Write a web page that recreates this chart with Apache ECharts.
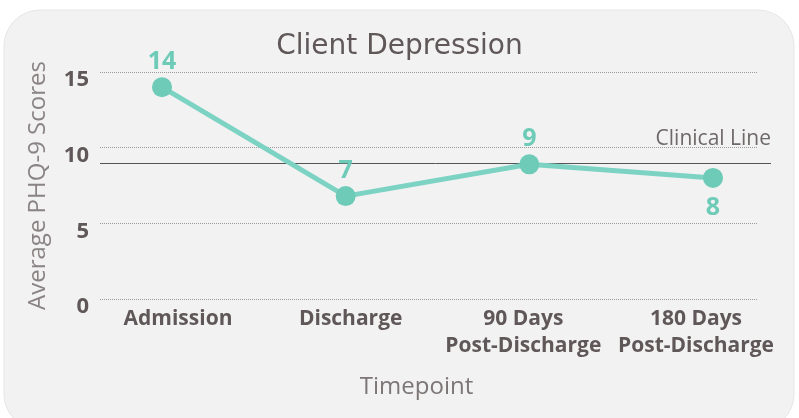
<!DOCTYPE html>
<html><head><meta charset="utf-8">
<script src="https://cdn.jsdelivr.net/npm/echarts@6/dist/echarts.min.js"></script>
<style>html,body{margin:0;padding:0;background:#fff}#c{width:799px;height:418px}</style>
</head><body><div id="c"></div>
<script>
const categories = ['Admission', 'Discharge', '90 Days\nPost-Discharge', '180 Days\nPost-Discharge'];
const scores = [14, 6.8, 8.9, 8.0];
const labelPos = ['top', 'top', 'top', 'bottom'];
const clinicalLine = 9;
const yTicks = { min: 0, max: 15, interval: 5 };

const dark = '#5f5758';
const teal = '#6dcbb8';
const font = 'Open Sans';
const chart = echarts.init(document.getElementById('c'), null, { renderer: 'canvas' });
chart.setOption({
  backgroundColor: '#fff',
  graphic: [{ type: 'rect', z: -10, silent: true, shape: { x: 4, y: 10, width: 790, height: 420, r: 36 },
    style: { fill: '#f2f2f2', stroke: '#e6e6e6', lineWidth: 1 } }],
  title: { text: 'Client Depression', left: 'center', top: 28,
    textStyle: { fontFamily: 'DejaVu Sans', fontWeight: 'normal', fontSize: 28, color: dark } },
  grid: [
    { left: 100, right: 42, top: 72, bottom: 119 },
    { left: 162, right: 86, top: 72, bottom: 119 },
    { left: 178, right: 103, top: 72, bottom: 119 }
  ],
  xAxis: [
    { type: 'category', gridIndex: 0, data: categories, axisLine: { show: false }, axisTick: { show: false },
      axisLabel: { show: false }, splitLine: { show: false },
      name: 'Timepoint', nameLocation: 'middle', nameGap: 76,
      nameTextStyle: { fontFamily: font, fontSize: 24, color: '#7d7677', padding: [0, 24, 0, 0] } },
    { type: 'category', gridIndex: 1, data: categories, boundaryGap: false, show: false },
    { type: 'category', gridIndex: 2, data: categories, boundaryGap: false,
      axisLine: { show: false }, axisTick: { show: false }, splitLine: { show: false },
      axisLabel: { margin: 7, interval: 0, fontFamily: font, fontWeight: 'bold', fontSize: 21, lineHeight: 27, color: dark } }
  ],
  yAxis: [
    { type: 'value', gridIndex: 0, min: yTicks.min, max: yTicks.max, interval: yTicks.interval,
      axisLine: { show: false }, axisTick: { show: false },
      splitLine: { lineStyle: { type: 'dotted', color: '#9a9a9a', width: 1 } },
      axisLabel: { margin: 11, fontFamily: font, fontWeight: 'bold', fontSize: 22, color: dark, verticalAlign: 'top', lineHeight: 16 },
      name: 'Average PHQ-9 Scores', nameLocation: 'middle', nameGap: 50,
      nameTextStyle: { fontFamily: font, fontSize: 24, color: '#8a8384' } },
    { type: 'value', gridIndex: 1, min: yTicks.min, max: yTicks.max, interval: yTicks.interval, show: false, splitLine: { show: false } },
    { type: 'value', gridIndex: 2, min: yTicks.min, max: yTicks.max, interval: yTicks.interval, show: false, splitLine: { show: false } }
  ],
  series: [{
    type: 'line', xAxisIndex: 1, yAxisIndex: 1,
    data: scores.map((v, i) => ({ value: v, label: { position: labelPos[i], distance: i === 3 ? 7 : 3 } })),
    symbol: 'circle', symbolSize: 20,
    lineStyle: { color: '#7dd3c3', width: 5 },
    itemStyle: { color: teal },
    label: { show: true, formatter: p => Math.round(p.value),
      fontFamily: font, fontWeight: 'bold', fontSize: 25, color: teal },
    markLine: {
      silent: true, symbol: 'none',
      lineStyle: { color: '#555', type: 'solid', width: 1 },
      label: { show: true, position: 'insideEndTop', formatter: 'Clinical Line', distance: 12, offset: [12, -1],
        fontFamily: font, fontSize: 21, color: '#6f6869' },
      data: [[{ x: 100, yAxis: clinicalLine }, { x: 771, yAxis: clinicalLine }]]
    },
    z: 5
  }]
});
</script></body></html>
